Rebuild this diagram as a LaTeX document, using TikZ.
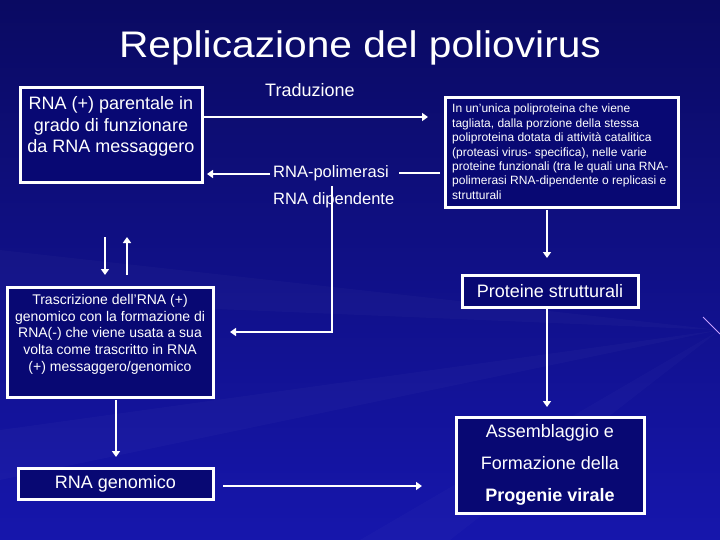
\documentclass[tikz,border=0pt]{standalone}
\usepackage{graphicx}
\usepackage{fontspec}
\setmainfont{Liberation Sans}
\usetikzlibrary{arrows.meta}
\definecolor{bgtop}{RGB}{10,10,98}
\definecolor{bgmid}{RGB}{20,20,150}
\definecolor{bgbot}{RGB}{22,22,172}
\definecolor{boxfill}{RGB}{8,8,115}
\definecolor{lav}{RGB}{200,160,255}
\begin{document}
\begin{tikzpicture}[x=1pt,y=-1pt,
  box/.style={draw=white, line width=3pt, fill=boxfill, inner sep=0pt},
  txt/.style={text=white, inner sep=0pt},
  conn/.style={draw=white, line width=2.2pt},
  arr/.style={conn, -{Triangle[width=8pt,length=6pt]}}]
\useasboundingbox (0,0) rectangle (720,540);
\shade[top color=bgtop, middle color=bgmid, bottom color=bgbot] (0,0) rectangle (720,540);
% faint streaks
\fill[white, opacity=0.025] (720,330) -- (0,250) -- (0,300) -- cycle;
\fill[white, opacity=0.025] (720,330) -- (0,430) -- (0,480) -- cycle;
\fill[white, opacity=0.02] (720,330) -- (360,540) -- (450,540) -- cycle;
\draw[lav, line width=1pt] (703,317) -- (720,334);

% title
\node[txt, anchor=base, font=\fontsize{37}{44}\selectfont] (title) at (360,58) {\scalebox{1.1}[1]{Replicazione del poliovirus}};

% boxes
\node[box, minimum width=182pt, minimum height=95pt] (b1) at (111,135.5) {};
\node[txt, anchor=north, align=center, font=\fontsize{18}{21.5}\selectfont] (t1) at (111,96.5)
  {RNA (+) parentale in\\grado di funzionare\\da RNA messaggero};

\node[box, minimum width=233pt, minimum height=110pt] (b3) at (561.5,153) {};
\node[txt, anchor=north west, align=left, font=\fontsize{12}{14.4}\selectfont] (t3) at (452,104)
  {In un'unica poliproteina che viene\\tagliata, dalla porzione della stessa\\poliproteina dotata di attività catalitica\\(proteasi virus- specifica), nelle varie\\proteine funzionali (tra le quali una RNA-\\polimerasi RNA-dipendente o replicasi e\\strutturali};

\node[box, minimum width=206pt, minimum height=110pt] (bt) at (110,342) {};
\node[txt, anchor=north, align=center, font=\fontsize{14}{16.8}\selectfont] (tt) at (110,294)
  {Trascrizione dell'RNA (+)\\genomico con la formazione di\\RNA(-) che viene usata a sua\\volta come trascritto in RNA\\(+) messaggero/genomico};

\node[box, text=white, minimum width=195pt, minimum height=31pt, font=\fontsize{18}{21}\selectfont] (bg) at (115.5,483.5) {RNA genomico};

\node[box, text=white, minimum width=176pt, minimum height=32pt, font=\fontsize{18}{21}\selectfont] (bp) at (550,291) {Proteine strutturali};

\node[box, minimum width=188pt, minimum height=96pt] (ba) at (550,465) {};
\node[txt, anchor=north, align=center, font=\fontsize{18}{32}\selectfont] (ta) at (550,424.5)
  {Assemblaggio e\\Formazione della\\\textbf{Progenie virale}};

% labels
\node[txt, anchor=base west, font=\fontsize{18}{21}\selectfont] (trad) at (265,97) {Traduzione};
\node[txt, anchor=base west, font=\fontsize{16.5}{20}\selectfont] (poly) at (273,178) {RNA-polimerasi};
\node[txt, anchor=base west, font=\fontsize{16.5}{20}\selectfont] (dip) at (273,205) {RNA dipendente};

% connectors
\coordinate (a1e) at (428,117);
\draw[arr] (b1.east |- a1e) -- (a1e);

\coordinate (p1) at (440,173);
\coordinate (p2) at (399,173);
\draw[conn] (p1) -- (p2);
\coordinate (p3) at (270,174);
\coordinate (p4) at (207,174);
\draw[arr] (p3) -- (p4);

\coordinate (v1) at (332,186);
\coordinate (v2) at (230,332);
\draw[arr] (v1) |- (v2);

\coordinate (d1) at (105,237);
\coordinate (d2) at (105,275);
\draw[arr] (d1) -- (d2);
\coordinate (u1) at (127,275);
\coordinate (u2) at (127,237);
\draw[arr] (u1) -- (u2);

\coordinate (g1) at (116,400);
\coordinate (g2) at (116,457);
\draw[arr] (g1) -- (g2);

\coordinate (h1) at (223,486);
\coordinate (h2) at (422,486);
\draw[arr] (h1) -- (h2);

\coordinate (s1) at (547,210);
\coordinate (s2) at (547,258);
\draw[arr] (s1) -- (s2);

\coordinate (r1) at (547,309);
\coordinate (r2) at (547,407);
\draw[arr] (r1) -- (r2);
\end{tikzpicture}
\end{document}
